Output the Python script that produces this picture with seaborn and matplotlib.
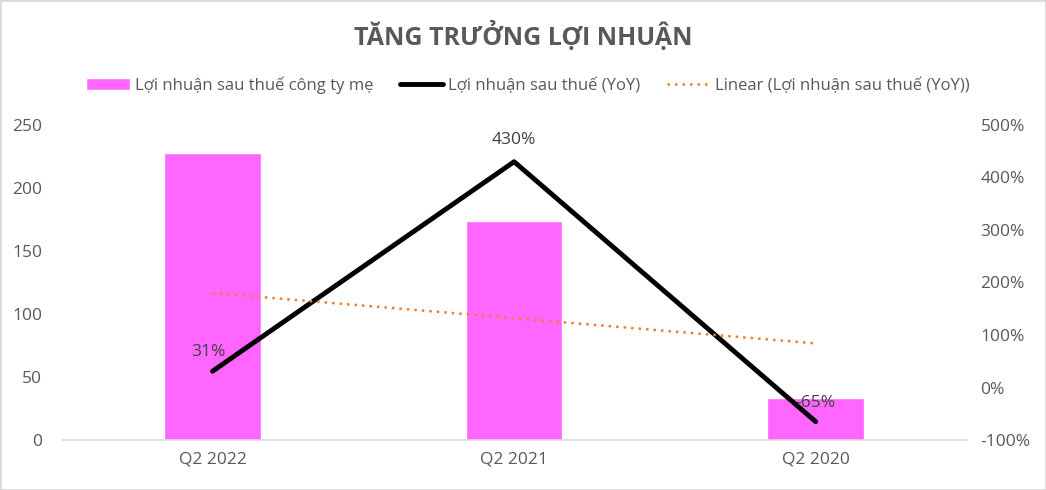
import numpy as np
import pandas as pd
import matplotlib
matplotlib.use('Agg')
from matplotlib import pyplot as plt
from matplotlib.lines import Line2D
from matplotlib.patches import Patch
from matplotlib.ticker import FuncFormatter
import seaborn as sns

quarters = ['Q2 2022', 'Q2 2021', 'Q2 2020']
profit = [228, 174, 33]
yoy = [31, 430, -65]
yoy_labels = ['31%', '430%', '-65%']

sns.set_style('white')
plt.rcParams['font.family'] = ['Open Sans', 'Noto Sans', 'DejaVu Sans']

grey = '#595959'
pink = '#FF66FF'
orange = '#ED7D31'

df = pd.DataFrame({'quarter': quarters, 'profit': profit, 'yoy': yoy})
pos = np.arange(len(quarters))
slope, icpt = np.polyfit(pos, yoy, 1)
df['trend'] = icpt + slope * pos

fig = plt.figure(figsize=(10.46, 4.9), dpi=100)
ax = fig.add_axes([0.059, 0.102, 0.865, 0.643])

sns.barplot(data=df, x='quarter', y='profit', color=pink, width=0.32,
            saturation=1, ax=ax)
ax.set_xlim(-0.5, 2.5)
ax.set_ylim(0, 250)
ax.set_yticks(range(0, 251, 50))
ax.set_xlabel('')
ax.set_ylabel('')

ax2 = ax.twinx()
sns.lineplot(x=pos, y=df['yoy'], color='black', lw=3.5, ax=ax2,
             solid_capstyle='round')
sns.lineplot(x=pos, y=df['trend'], color=orange, lw=1.8, ax=ax2,
             linestyle=(0, (1, 2)))
ax2.set_ylim(-100, 500)
ax2.set_yticks(range(-100, 501, 100))
ax2.yaxis.set_major_formatter(FuncFormatter(lambda v, p: f'{v:.0f}%'))
ax2.set_ylabel('')

offsets = [(-3, 8), (0, 10), (0, 8)]
for i, (v, lab) in enumerate(zip(yoy, yoy_labels)):
    dx, dy = offsets[i]
    ax2.annotate(lab, (pos[i], v), xytext=(dx, dy), textcoords='offset points',
                 ha='center', va='bottom', fontsize=12.5, color='#404040')

for a in (ax, ax2):
    for s in a.spines.values():
        s.set_visible(False)
    a.tick_params(length=0, labelsize=12.5, colors=grey)
ax2.spines['bottom'].set_visible(True)
ax2.spines['bottom'].set_color('#D9D9D9')
ax2.spines['bottom'].set_linewidth(1.2)
ax.tick_params(axis='y', pad=14)
ax2.tick_params(axis='y', pad=10)
ax.tick_params(axis='x', pad=8)

fig.text(0.5, 0.927, 'TĂNG TRƯỞNG LỢI NHUẬN', ha='center', va='center',
         fontsize=18, fontweight='bold', color=grey)

handles = [Patch(facecolor=pink, label='Lợi nhuận sau thuế công ty mẹ'),
           Line2D([], [], color='black', lw=3.5, label='Lợi nhuận sau thuế (YoY)'),
           Line2D([], [], color=orange, lw=1.8, linestyle=(0, (1, 2)),
                  label='Linear (Lợi nhuận sau thuế (YoY))')]
fig.legend(handles=handles, loc='center', bbox_to_anchor=(0.505, 0.826), ncol=3,
           frameon=False, fontsize=12, labelcolor=grey, handlelength=2.6,
           handleheight=0.7, columnspacing=1.6, handletextpad=0.3)

fig.patches.append(plt.Rectangle((0, 0), 1, 1, transform=fig.transFigure,
                                 fill=False, edgecolor='#D9D9D9', lw=2))
fig.savefig('out.png', dpi=100)
